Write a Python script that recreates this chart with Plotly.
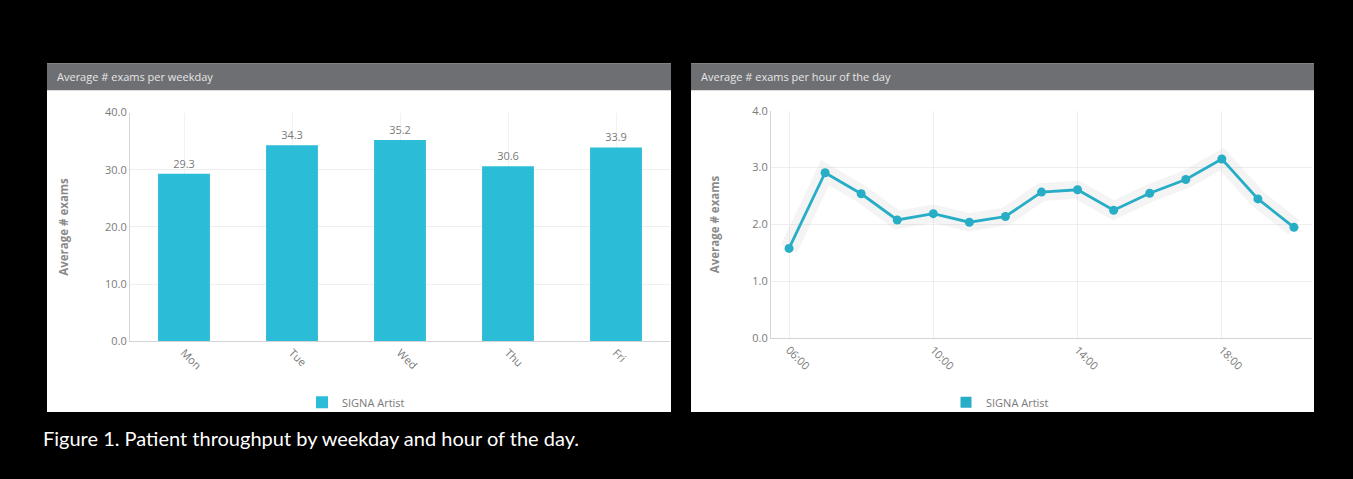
import plotly.graph_objects as go

# Weekly throughput
weekdays = ["Mon", "Tue", "Wed", "Thu", "Fri"]
weekday_avg = [29.3, 34.3, 35.2, 30.6, 33.9]

# Hourly throughput
hours = [6, 7, 8, 9, 10, 11, 12, 13, 14, 15, 16, 17, 18, 19, 20]
hourly_avg = [1.58, 2.91, 2.54, 2.08, 2.19, 2.04, 2.14, 2.57, 2.61, 2.25, 2.55, 2.79, 3.15, 2.45, 1.95]
hour_ticks = [6, 10, 14, 18]
hour_tick_labels = ["06:00", "10:00", "14:00", "18:00"]

series_name = "SIGNA Artist"
panel_titles = ["Average # exams per weekday", "Average # exams per hour of the day"]
caption = "Figure 1. Patient throughput by weekday and hour of the day."

W, H = 1353, 479
BAR_COLOR = "#2bbdd7"
LINE_COLOR = "#28adc6"
FONT = "Open Sans"
TXT = "#7a7a7a"


def px(x):
    return x / W


def py(y):
    return (H - y) / H


fig = go.Figure()

fig.add_trace(go.Bar(
    x=weekdays, y=weekday_avg, name=series_name,
    marker=dict(color=BAR_COLOR, line=dict(width=0)),
    width=0.48,
    text=[f"{v:.1f}" for v in weekday_avg], textposition="outside",
    textfont=dict(color=TXT, size=11, family=FONT),
    cliponaxis=False,
    xaxis="x", yaxis="y", legend="legend",
))

# soft halo under the hourly line
fig.add_trace(go.Scatter(
    x=hours, y=hourly_avg, mode="lines",
    line=dict(color="rgba(170,170,170,0.13)", width=18),
    hoverinfo="skip", showlegend=False, xaxis="x2", yaxis="y2",
))
fig.add_trace(go.Scatter(
    x=hours, y=hourly_avg, mode="lines+markers", name=series_name,
    line=dict(color=LINE_COLOR, width=2.8),
    marker=dict(color=LINE_COLOR, size=9),
    showlegend=False, xaxis="x2", yaxis="y2",
))
# legend entry for the hourly series
fig.add_trace(go.Scatter(
    x=[None], y=[None], mode="markers", name=series_name,
    marker=dict(color=LINE_COLOR, symbol="square", size=11),
    xaxis="x2", yaxis="y2", legend="legend2",
))

axis_common = dict(
    showline=True, linecolor="#d4d4d4", linewidth=1,
    gridcolor="#eeeeee", zeroline=False,
    tickfont=dict(color=TXT, size=11, family=FONT),
    ticks="",
)

shapes = []
annotations = []
for (x0, x1), title in zip([(47, 671), (691, 1314)], panel_titles):
    shapes.append(dict(type="rect", xref="paper", yref="paper",
                       x0=px(x0), x1=px(x1), y0=py(417), y1=py(57),
                       fillcolor="white", line=dict(width=0), layer="below"))
    shapes.append(dict(type="rect", xref="paper", yref="paper",
                       x0=px(x0), x1=px(x1), y0=py(85), y1=py(57),
                       fillcolor="#6e6f72", line=dict(width=0), layer="below"))
    annotations.append(dict(text=title, xref="paper", yref="paper",
                            x=px(x0 + 8), y=py(71), xanchor="left", yanchor="middle",
                            showarrow=False,
                            font=dict(color="#e6e6e6", size=11, family=FONT)))

annotations.append(dict(text=caption, xref="paper", yref="paper",
                        x=px(41), y=py(444), xanchor="left", yanchor="middle",
                        showarrow=False,
                        font=dict(color="white", size=20, family="Lato")))

fig.update_layout(
    width=W, height=H,
    margin=dict(l=0, r=0, t=0, b=0),
    paper_bgcolor="black", plot_bgcolor="white",
    font=dict(family=FONT, color=TXT),
    bargap=0.52,
    xaxis=dict(axis_common, domain=[px(130), px(670)], range=[-0.5, 4.5],
               tickangle=45, showgrid=True, gridcolor="#f2f2f2", anchor="y"),
    yaxis=dict(axis_common, domain=[py(344), py(108)], range=[0, 40],
               dtick=10, tickformat=".1f", anchor="x",
               title=dict(text="<b>Average # exams</b>", standoff=34,
                          font=dict(color="#8a8a8a", size=11.5, family=FONT))),
    xaxis2=dict(axis_common, domain=[px(771), px(1312)], range=[5.5, 20.5],
                tickvals=hour_ticks, ticktext=hour_tick_labels,
                tickangle=45, showgrid=True, anchor="y2"),
    yaxis2=dict(axis_common, domain=[py(341), py(106)], range=[0, 4],
                dtick=1, tickformat=".1f", anchor="x2",
                title=dict(text="<b>Average # exams</b>", standoff=30,
                           font=dict(color="#8a8a8a", size=11.5, family=FONT))),
    legend=dict(x=px(356), y=py(407), xanchor="center", yanchor="middle",
                orientation="h", bgcolor="rgba(0,0,0,0)", itemwidth=30,
                font=dict(color=TXT, size=11, family=FONT)),
    legend2=dict(x=px(1000), y=py(407), xanchor="center", yanchor="middle",
                 orientation="h", bgcolor="rgba(0,0,0,0)", itemwidth=30,
                 font=dict(color=TXT, size=11, family=FONT)),
    shapes=shapes,
    annotations=annotations,
)

fig.write_html("out.html")
